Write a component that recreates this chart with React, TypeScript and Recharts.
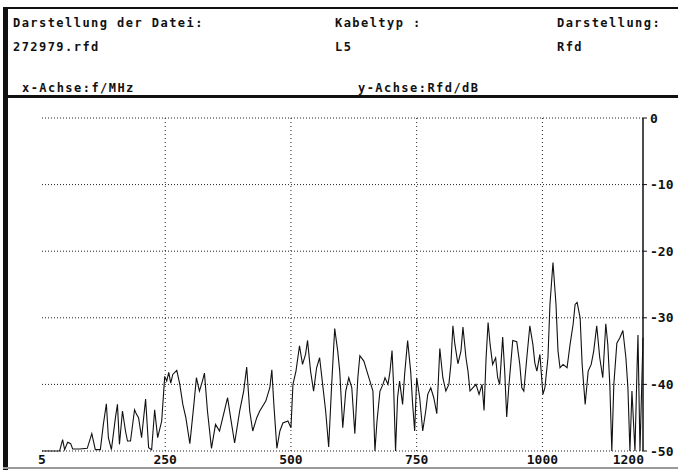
import { LineChart, Line, XAxis, YAxis, CartesianGrid, ReferenceLine } from 'recharts'

// Frequenz in MHz
const freq = [
  5, 30, 40, 46, 50, 56, 62, 66, 80, 95, 104, 111, 121, 127, 133, 137, 143, 151, 155, 159,
  165, 171, 175, 181, 189, 193, 197, 203, 211, 217, 223, 229, 235, 243, 249, 253, 257, 261, 265, 273,
  279, 285, 291, 299, 307, 312, 318, 324, 328, 334, 342, 350, 358, 366, 374, 380, 388, 398, 406, 412,
  418, 424, 432, 438, 450, 458, 462, 466, 472, 478, 484, 494, 500, 504, 510, 517, 523, 529, 533, 539,
  545, 551, 557, 563, 569, 575, 581, 587, 593, 597, 603, 609, 615, 621, 627, 633, 637, 645, 651, 657,
  663, 667, 671, 677, 683, 687, 693, 697, 701, 704, 708, 712, 716, 722, 726, 732, 738, 742, 746, 750,
  756, 762, 768, 772, 778, 784, 790, 796, 802, 808, 814, 818, 822, 826, 832, 838, 842, 848, 852, 856,
  862, 868, 874, 880, 884, 888, 892, 896, 901, 907, 911, 915, 921, 925, 929, 933, 937, 941, 949, 955,
  959, 963, 969, 975, 981, 985, 989, 995, 1001, 1005, 1011, 1015, 1021, 1027, 1031, 1035, 1041, 1049, 1055, 1061,
  1065, 1069, 1075, 1079, 1085, 1091, 1097, 1102, 1108, 1114, 1120, 1126, 1130, 1134, 1138, 1142, 1148, 1154, 1160, 1166,
  1170, 1174, 1178, 1184, 1188, 1190, 1194, 1200,
]

// Rückflussdämpfung in dB
const rfd = [
  -50, -50, -50, -48.3, -49.8, -48.7, -48.9, -49.7, -49.7, -49.6, -47.4, -49.8, -49.8, -46, -42.9, -48, -49.8, -45, -43, -49,
  -44, -47, -48.5, -48.5, -43.8, -44.5, -45, -48, -42.2, -49.5, -49.8, -43.8, -48, -45.5, -38.8, -39.5, -38.2, -39.8, -38.5, -37.9,
  -40, -43, -45, -48.9, -43, -39, -41, -39.5, -38.3, -44, -49.6, -46, -47, -44.5, -42, -45, -48.8, -44, -41, -37.4,
  -44, -47, -45, -44, -42.5, -40.5, -37.8, -43, -49.6, -47, -45.8, -45.5, -46.5, -40, -38, -34.2, -37, -35.5, -33.4, -38,
  -41, -37.5, -36, -40, -44, -49.4, -40, -31.6, -35, -38, -46.5, -41, -39, -40.5, -47.4, -39, -35.7, -36.5, -38, -39.5,
  -41, -50, -45.6, -41, -40, -39, -40, -38, -34.9, -40, -50, -42, -39.5, -43, -38.5, -33.4, -38, -43, -47, -39,
  -42, -47, -44, -41.5, -40.5, -42, -44.4, -34.6, -39, -41, -40, -37, -31.2, -34, -36.9, -35, -31.4, -36, -38, -41,
  -40.5, -40, -41.5, -40, -43.9, -36, -30.7, -34, -37, -36, -39, -40, -32.9, -38, -44.9, -40.5, -37, -33.4, -33.6, -37,
  -40.5, -41, -36, -31.2, -34, -36.8, -38, -35.5, -41.5, -40.5, -36, -28, -21.7, -28, -35, -37.5, -37, -37.5, -34, -31,
  -28, -27.7, -30, -37, -43, -38, -37, -35, -31.2, -36, -39, -30.9, -34, -40, -50, -40, -33.8, -33, -31.9, -36,
  -40.5, -50, -41, -50, -38, -32.6, -50, -33,
]

const xTicks = [5, 250, 500, 750, 1000, 1200]
const xGrid = [250, 500, 750, 1000]
const yTicks = [0, -10, -20, -30, -40, -50]

const data = freq.map((f, i) => ({ f, rfd: rfd[i] }))

const hdr = {
  position: 'absolute' as const,
  fontFamily: '"DejaVu Sans Mono", monospace',
  fontWeight: 'bold' as const,
  fontSize: 12,
  letterSpacing: 1.45,
  color: '#111',
  lineHeight: '14px',
  whiteSpace: 'nowrap' as const,
}

const tickFont = { fontFamily: '"DejaVu Sans Mono", monospace', fontWeight: 'bold', fontSize: 13, fill: '#111' }

// letzte Beschriftung (1200) sitzt links vom Achsenende, wie im Original
const XTick = (props: any) => {
  const { x, y, payload } = props
  const last = payload.value === 1200
  return (
    <text x={last ? x + 1 : x} y={y} dy="0.71em" textAnchor={last ? 'end' : 'middle'} {...tickFont}>
      {payload.value}
    </text>
  )
}

export default function App() {
  return (
    <div style={{ position: 'absolute', left: 0, top: 0, width: 678, height: 470, background: '#fff', overflow: 'hidden' }}>
      {/* Rahmen */}
      <div style={{ position: 'absolute', left: 4, top: 7, width: 674, height: 2, background: '#111' }} />
      <div style={{ position: 'absolute', left: 3, top: 7, width: 5, height: 463, background: '#111' }} />
      <div style={{ position: 'absolute', left: 3, top: 95, width: 675, height: 3, background: '#111' }} />
      <div style={{ position: 'absolute', left: 3, top: 467, width: 675, height: 2, background: '#999' }} />

      <div style={{ ...hdr, left: 13, top: 16 }}>Darstellung der Datei:</div>
      <div style={{ ...hdr, left: 13, top: 40 }}>272979.rfd</div>
      <div style={{ ...hdr, left: 335, top: 16 }}>Kabeltyp :</div>
      <div style={{ ...hdr, left: 335, top: 40 }}>L5</div>
      <div style={{ ...hdr, left: 557, top: 16 }}>Darstellung:</div>
      <div style={{ ...hdr, left: 557, top: 40 }}>Rfd</div>
      <div style={{ ...hdr, left: 22, top: 81 }}>x-Achse:f/MHz</div>
      <div style={{ ...hdr, left: 358, top: 81 }}>y-Achse:Rfd/dB</div>

      <div style={{ position: 'absolute', left: 0, top: 0 }}>
        <LineChart width={678} height={470} data={data} margin={{ top: 118, left: 42, right: 0, bottom: 0 }}>
          <CartesianGrid vertical={false} stroke="#222" strokeDasharray="1 2" />
          {xGrid.map((v) => (
            <ReferenceLine key={v} x={v} stroke="#222" strokeDasharray="1 3" />
          ))}
          <XAxis
            dataKey="f"
            type="number"
            domain={[5, 1200]}
            ticks={xTicks}
            axisLine={false}
            tickLine={false}
            tickSize={0}
            tickMargin={4}
            height={19}
            interval={0}
            tick={<XTick />}
          />
          <YAxis
            orientation="right"
            type="number"
            domain={[-50, 0]}
            ticks={yTicks}
            width={35}
            axisLine={{ stroke: '#111', strokeWidth: 1.5 }}
            tickLine={{ stroke: '#111' }}
            tickSize={4}
            tickMargin={3}
            interval={0}
            tick={tickFont}
          />
          <Line
            type="linear"
            dataKey="rfd"
            stroke="#111"
            strokeWidth={1.1}
            dot={false}
            isAnimationActive={false}
          />
        </LineChart>
      </div>
    </div>
  )
}
